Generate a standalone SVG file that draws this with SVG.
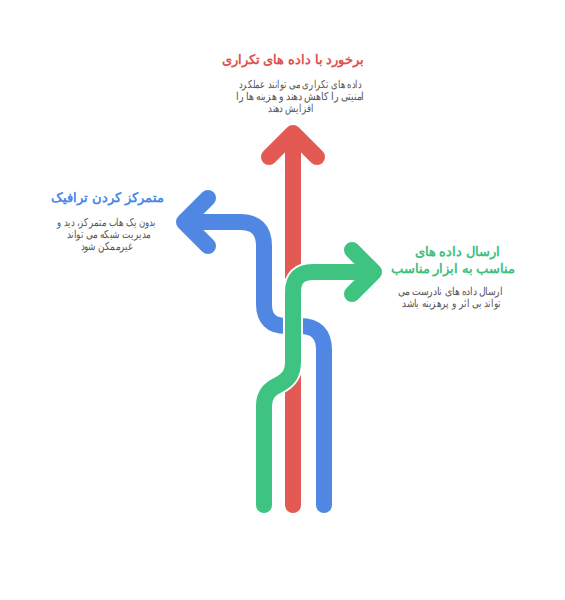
<svg xmlns="http://www.w3.org/2000/svg" width="565" height="600" viewBox="0 0 565 600">
<style>
.ln{fill:none;stroke-width:16;stroke-linecap:round;stroke-linejoin:round}
.red{stroke:#E35A55}.blue{stroke:#4F87E3}.green{stroke:#3EC380}
.halo{fill:none;stroke:#fff;stroke-width:20;stroke-linecap:butt;stroke-linejoin:round}
text{font-family:"Liberation Sans",sans-serif;direction:rtl;text-anchor:middle}
.t{font-size:13px;font-weight:bold}
.b{font-size:11px;fill:#555}
</style>
<rect width="565" height="600" fill="#fff"/>
<g id="connectors">
<path class="ln red" d="M293,505 V138"/>
<path class="ln red" d="M269,157 L293,133 L317,157"/>
<path class="ln blue" d="M324,505 V350 Q324,326 300,326 H286 Q264,326 264,304 V246 Q264,222 240,222 H190"/>
<path class="ln blue" d="M208,198 L184,222 L208,246"/>
<path class="halo" d="M264,505 V406 C264,394 270,389 278,385 C288,380 293,374 293,362 V292 Q293,272 313,272 H360"/>
<path class="ln green" d="M264,505 V406 C264,394 270,389 278,385 C288,380 293,374 293,362 V292 Q293,272 313,272 H368"/>
<path class="ln green" d="M352,250 L374,272 L352,294"/>
</g>
<g id="node-red">
<text class="t" x="293" y="64" fill="#E0524E">برخورد با داده های تکراری</text>
<text class="b" transform="translate(300,88) scale(0.76,1)">داده های تکراری می توانند عملکرد</text>
<text class="b" transform="translate(300,100) scale(0.86,1)">امنیتی را کاهش دهند و هزینه ها را</text>
<text class="b" transform="translate(291,112) scale(0.77,1)">افزایش دهند</text>
</g>
<g id="node-blue">
<text class="t" x="107.5" y="202" fill="#4A86E8">متمرکز کردن ترافیک</text>
<text class="b" transform="translate(106.5,226) scale(0.78,1)">بدون یک هاب متمرکز، دید و</text>
<text class="b" transform="translate(108.5,238) scale(0.81,1)">مدیریت شبکه می تواند</text>
<text class="b" transform="translate(106.5,250) scale(0.8,1)">غیرممکن شود</text>
</g>
<g id="node-green">
<text class="t" x="457.5" y="256" fill="#3CC17E">ارسال داده های</text>
<text class="t" x="453" y="273" fill="#3CC17E">مناسب به ابزار مناسب</text>
<text class="b" transform="translate(450,295) scale(0.84,1)">ارسال داده های نادرست می</text>
<text class="b" transform="translate(451.5,307) scale(0.81,1)">تواند بی اثر و پرهزینه باشد</text>
</g>
</svg>
